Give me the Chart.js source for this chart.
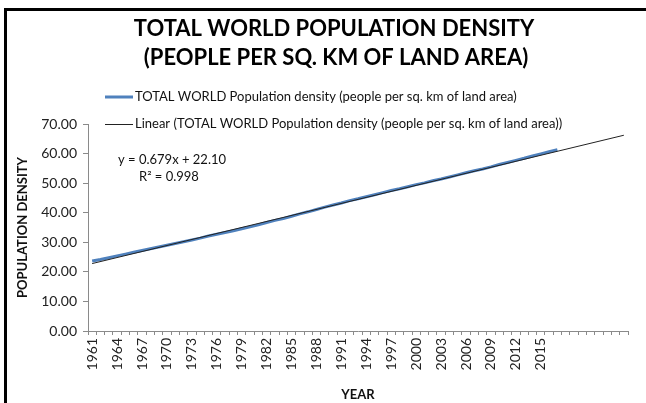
<!DOCTYPE html>
<html>
<head>
<meta charset="utf-8">
<script src="https://cdn.jsdelivr.net/npm/chart.js@4/dist/chart.umd.min.js"></script>
<style>
  html, body { margin: 0; padding: 0; background: #fff; }
  #wrap { position: relative; width: 646px; height: 403px; overflow: hidden; }
  #frame { position: absolute; left: 4px; top: 8px; width: 700px; height: 500px;
           border-left: 3px solid #000; border-top: 3px solid #000; box-sizing: border-box; pointer-events: none; }
  canvas { position: absolute; left: 0; top: 0; }
</style>
</head>
<body>
<div id="wrap">
  <canvas id="c" width="646" height="403"></canvas>
  <div id="frame"></div>
</div>
<script>
// ---- data ----
const years = [1961,1962,1963,1964,1965,1966,1967,1968,1969,1970,
               1971,1972,1973,1974,1975,1976,1977,1978,1979,1980,
               1981,1982,1983,1984,1985,1986,1987,1988,1989,1990,
               1991,1992,1993,1994,1995,1996,1997,1998,1999,2000,
               2001,2002,2003,2004,2005,2006,2007,2008,2009,2010,
               2011,2012,2013,2014,2015,2016,2017];
const forecastSlots = ['','','','','','','',''];   // trendline forward forecast periods (unlabelled)
const density = [23.7,24.2,24.8,25.4,26.0,26.6,27.2,27.8,28.4,29.0,
                 29.6,30.2,30.8,31.4,32.1,32.7,33.3,33.9,34.6,35.2,
                 35.9,36.7,37.4,38.0,38.8,39.6,40.3,41.1,41.9,42.6,
                 43.3,44.1,44.7,45.4,46.1,46.8,47.5,48.1,48.8,49.5,
                 50.1,50.8,51.4,52.1,52.8,53.5,54.2,54.8,55.5,56.3,
                 57.0,57.7,58.4,59.2,59.9,60.6,61.3];
const trendStart = 22.8;   // linear trend at first category
const trendEnd = 66.2;     // linear trend at last forecast category
const yTicks = [0,10,20,30,40,50,60,70];
const titleLines = ['TOTAL WORLD POPULATION DENSITY', '(PEOPLE PER SQ. KM OF LAND AREA)'];
const seriesName = 'TOTAL WORLD Population density (people per sq. km of land area)';
const trendName = 'Linear (TOTAL WORLD Population density (people per sq. km of land area))';
const equationLines = ['y = 0.679x + 22.10', 'R² = 0.998'];

const labels = years.map(String).concat(forecastSlots);
const trendData = labels.map(() => null);
trendData[0] = trendStart;
trendData[labels.length - 1] = trendEnd;

const FONT = 'Lato, "Open Sans", sans-serif';
const BLUE = '#4f81bd';

const decor = {
  id: 'decor',
  afterDraw(chart) {
    const ctx = chart.ctx;
    ctx.save();
    ctx.fillStyle = '#000';
    ctx.textAlign = 'center';
    ctx.textBaseline = 'middle';
    ctx.font = 'bold 22px ' + FONT;
    ctx.fillText(titleLines[0], 334, 29);
    ctx.fillText(titleLines[1], 336, 58);

    // legend
    ctx.lineCap = 'butt';
    ctx.strokeStyle = BLUE; ctx.lineWidth = 3;
    ctx.beginPath(); ctx.moveTo(105, 97); ctx.lineTo(133, 97); ctx.stroke();
    ctx.strokeStyle = '#222'; ctx.lineWidth = 1;
    ctx.beginPath(); ctx.moveTo(105, 124.5); ctx.lineTo(133, 124.5); ctx.stroke();
    ctx.textAlign = 'left';
    ctx.font = '13px ' + FONT;
    ctx.fillStyle = '#111';
    ctx.fillText(seriesName, 135, 97);
    ctx.fillText(trendName, 135, 124);

    // equation
    ctx.fillText(equationLines[0], 118, 160);
    ctx.fillText(equationLines[1], 139, 177);
    ctx.restore();
  }
};

new Chart(document.getElementById('c'), {
  type: 'line',
  data: {
    labels: labels,
    datasets: [
      { label: trendName, data: trendData, borderColor: '#222', borderWidth: 1,
        pointRadius: 0, spanGaps: true, tension: 0, order: 0 },
      { label: seriesName, data: density, borderColor: BLUE, borderWidth: 3,
        pointRadius: 0, tension: 0, order: 1 }
    ]
  },
  options: {
    responsive: false,
    animation: false,
    layout: { padding: { left: 0, top: 124, right: 18, bottom: 0 } },
    plugins: { legend: { display: false }, title: { display: false }, tooltip: { enabled: false } },
    scales: {
      x: {
        type: 'category',
        offset: true,
        grid: { display: true, drawOnChartArea: false, offset: true, tickLength: 4, color: '#8a8a8a' },
        border: { color: '#8a8a8a' },
        ticks: {
          autoSkip: false, maxRotation: 90, minRotation: 90, padding: 3,
          color: '#222', font: { family: FONT, size: 14 },
          callback: function (v, i) { const l = this.getLabelForValue(v); return (i % 3 === 0 && l) ? l : ''; }
        },
        title: { display: true, text: 'YEAR', color: '#111', font: { family: FONT, size: 13, weight: 'bold' },
                 padding: { top: 0, bottom: 0 } },
        afterFit: (s) => { s.height = 72; }
      },
      y: {
        min: 0, max: 70,
        afterBuildTicks: (s) => { s.ticks = yTicks.map(v => ({ value: v })); },
        grid: { display: true, drawOnChartArea: false, tickLength: 5, color: '#8a8a8a' },
        border: { color: '#8a8a8a' },
        ticks: { color: '#222', font: { family: FONT, size: 14 }, padding: 6,
                 callback: (v) => Number(v).toFixed(2) },
        title: { display: true, text: 'POPULATION DENSITY', color: '#111',
                 font: { family: FONT, size: 13, weight: 'bold' }, padding: { top: 15, bottom: 0 } },
        afterFit: (s) => { s.width = 88; }
      }
    }
  },
  plugins: [decor]
});
</script>
</body>
</html>
